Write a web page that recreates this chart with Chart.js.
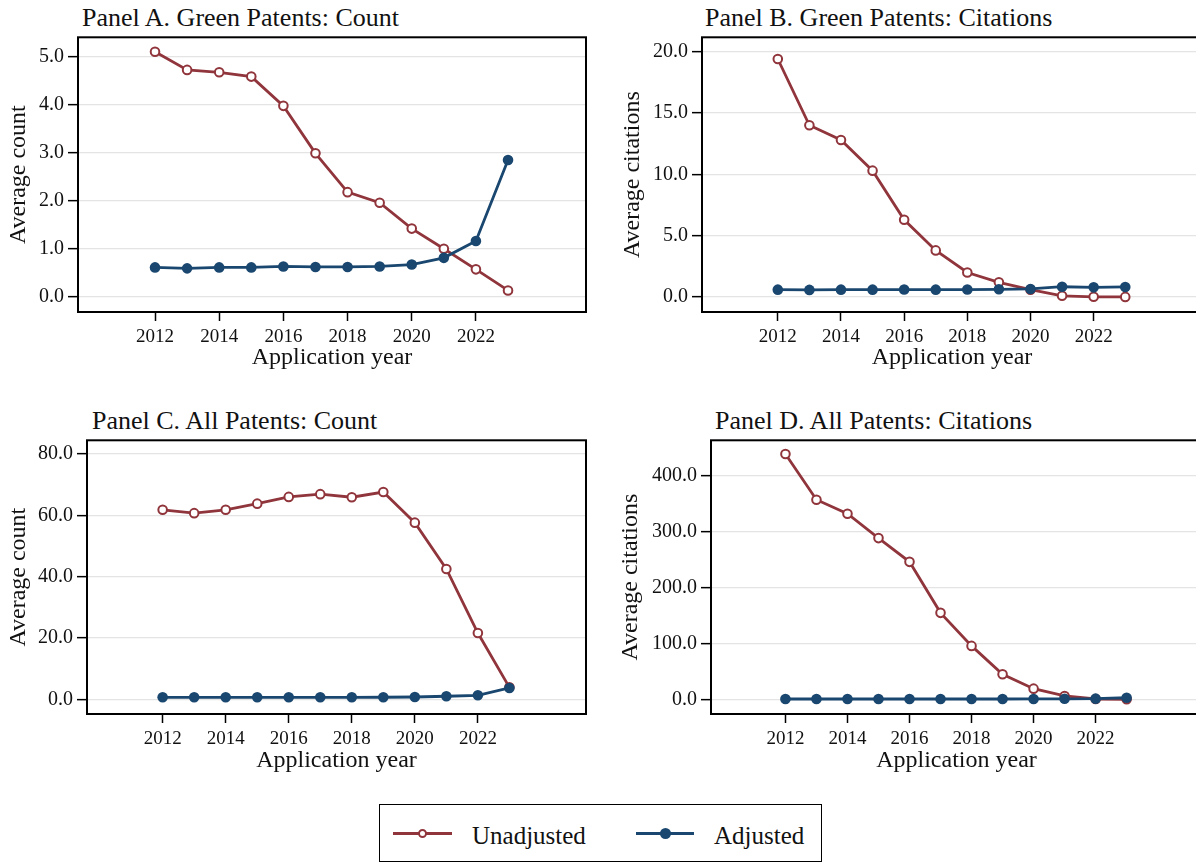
<!DOCTYPE html>
<html>
<head>
<meta charset="utf-8">
<script src="https://cdn.jsdelivr.net/npm/chart.js@4.4.1/dist/chart.umd.min.js"></script>
<style>
  html, body { margin: 0; overflow: hidden; }
  body { width: 1196px; height: 863px; background: #fff;
         position: relative; font-family: "Liberation Serif", "Times New Roman", serif; color: #111; }
  canvas { position: absolute; }
  .ptitle { position: absolute; font-size: 26px; line-height: 26px; white-space: nowrap; }
  #legend { position: absolute; left: 379px; top: 804px; width: 441px; height: 56px;
            border: 1.5px solid #000; }
  .lline { position: absolute; height: 3px; }
  .ldot { position: absolute; border-radius: 50%; box-sizing: border-box; }
  .ltext { position: absolute; font-size: 25px; line-height: 25px; white-space: nowrap; }
</style>
</head>
<body>
<div class="ptitle" style="left:82px;top:5px">Panel A. Green Patents: Count</div>
<div class="ptitle" style="left:705px;top:5px">Panel B. Green Patents: Citations</div>
<div class="ptitle" style="left:92px;top:408px">Panel C. All Patents: Count</div>
<div class="ptitle" style="left:715px;top:408px">Panel D. All Patents: Citations</div>

<canvas id="panelA"></canvas>
<canvas id="panelB"></canvas>
<canvas id="panelC"></canvas>
<canvas id="panelD"></canvas>

<div id="legend">
  <div class="lline" style="left:13px;top:27px;width:59px;background:#90353B"></div>
  <div class="ldot" style="left:38px;top:24px;width:9px;height:9px;background:#fff;border:2px solid #90353B"></div>
  <div class="ltext" style="left:92px;top:18px">Unadjusted</div>
  <div class="lline" style="left:256px;top:27px;width:58px;background:#1A476F"></div>
  <div class="ldot" style="left:280px;top:23px;width:11px;height:11px;background:#1A476F"></div>
  <div class="ltext" style="left:334px;top:18px">Adjusted</div>
</div>

<script>
// data
const years = [2012, 2013, 2014, 2015, 2016, 2017, 2018, 2019, 2020, 2021, 2022, 2023];
const yearTicks = [2012, 2014, 2016, 2018, 2020, 2022];

const greenCountUnadj = [5.11, 4.73, 4.68, 4.59, 3.98, 2.99, 2.18, 1.96, 1.42, 1.00, 0.57, 0.13];
const greenCountAdj   = [0.61, 0.59, 0.61, 0.61, 0.63, 0.62, 0.62, 0.63, 0.67, 0.81, 1.16, 2.85];
const greenCountTicks = [0, 1, 2, 3, 4, 5];

const greenCiteUnadj = [19.4, 14.0, 12.8, 10.3, 6.3, 3.8, 2.0, 1.2, 0.6, 0.1, 0.02, 0.01];
const greenCiteAdj   = [0.60, 0.58, 0.60, 0.60, 0.61, 0.60, 0.61, 0.63, 0.66, 0.84, 0.79, 0.82];
const greenCiteTicks = [0, 5, 10, 15, 20];

const allCountUnadj = [61.8, 60.7, 61.8, 63.8, 66.0, 66.9, 65.9, 67.6, 57.6, 42.5, 21.6, 3.9];
const allCountAdj   = [0.65, 0.65, 0.66, 0.66, 0.66, 0.66, 0.66, 0.67, 0.76, 1.0, 1.3, 3.7];
const allCountTicks = [0, 20, 40, 60, 80];

const allCiteUnadj = [439.5, 357.5, 332.4, 288.8, 246.3, 154.9, 95.7, 44.8, 19.1, 6.0, 0.6, 0.1];
const allCiteAdj   = [0.6, 0.6, 0.6, 0.6, 0.6, 0.6, 0.6, 0.6, 0.7, 0.9, 1.2, 2.8];
const allCiteTicks = [0, 100, 200, 300, 400];

const RED = '#90353B';
const BLUE = '#1A476F';
const FONT = 'Liberation Serif';

// the x axis takes the bottom 68px of each canvas
const panels = [
  { id: 'panelA', yTitle: 'Average count', unadj: greenCountUnadj, adj: greenCountAdj, ticks: greenCountTicks, yMin: -0.32, yMax: 5.41,
    left: 0, top: 31, width: 598, height: 349, yAxisW: 78, padRight: 12, yTitlePad: 4, xTitlePad: 8 },
  { id: 'panelB', yTitle: 'Average citations', unadj: greenCiteUnadj, adj: greenCiteAdj, ticks: greenCiteTicks, yMin: -1.22, yMax: 21.17,
    left: 600, top: 31, width: 612, height: 349, yAxisW: 102, padRight: 10, yTitlePad: 18, xTitlePad: 8 },
  { id: 'panelC', yTitle: 'Average count', unadj: allCountUnadj, adj: allCountAdj, ticks: allCountTicks, yMin: -4.79, yMax: 84.46,
    left: 0, top: 434, width: 598, height: 348, yAxisW: 87, padRight: 12, yTitlePad: 4, xTitlePad: 7 },
  { id: 'panelD', yTitle: 'Average citations', unadj: allCiteUnadj, adj: allCiteAdj, ticks: allCiteTicks, yMin: -26.3, yMax: 464,
    left: 600, top: 434, width: 612, height: 348, yAxisW: 111, padRight: 10, yTitlePad: 16, xTitlePad: 7 }
];

// black box round the plot region
const framePlugin = {
  id: 'frame',
  afterDraw(chart) {
    const { ctx, chartArea: a } = chart;
    ctx.save();
    ctx.strokeStyle = '#000';
    ctx.lineWidth = 2;
    ctx.strokeRect(a.left, a.top, a.right - a.left, a.bottom - a.top);
    ctx.restore();
  }
};

panels.forEach(p => {
  const cv = document.getElementById(p.id);
  cv.width = p.width; cv.height = p.height;
  cv.style.left = p.left + 'px'; cv.style.top = p.top + 'px';
  cv.style.width = p.width + 'px'; cv.style.height = p.height + 'px';

  new Chart(cv, {
    type: 'line',
    data: {
      labels: years,
      datasets: [
        {
          label: 'Unadjusted', data: years.map((y, i) => ({ x: y, y: p.unadj[i] })), order: 1,
          borderColor: RED, borderWidth: 2.8, tension: 0,
          pointRadius: 4.3, pointBorderWidth: 2, pointBackgroundColor: '#fff', pointBorderColor: RED
        },
        {
          label: 'Adjusted', data: years.map((y, i) => ({ x: y, y: p.adj[i] })), order: 0,
          borderColor: BLUE, borderWidth: 2.8, tension: 0,
          pointRadius: 5.3, pointBorderWidth: 0, pointBackgroundColor: BLUE, pointBorderColor: BLUE
        }
      ]
    },
    options: {
      responsive: false,
      devicePixelRatio: 1,
      animation: false,
      layout: { padding: { top: 2, right: p.padRight, left: 0, bottom: 0 } },
      plugins: { legend: { display: false }, tooltip: { enabled: false } },
      scales: {
        x: {
          type: 'linear', min: 2009.6, max: 2025.43,
          afterBuildTicks: s => { s.ticks = yearTicks.map(v => ({ value: v })); },
          afterFit: s => { s.height = 68; s.paddingLeft = 0; s.paddingRight = 0; },
          grid: { drawOnChartArea: false, drawTicks: true, tickLength: 9, tickColor: '#000', tickWidth: 1.5 },
          border: { display: false },
          ticks: { color: '#111', font: { family: FONT, size: 19 }, padding: 5, maxRotation: 0,
                   callback: v => String(v) },
          title: { display: true, text: 'Application year', color: '#111',
                   font: { family: FONT, size: 24 }, padding: { top: 0, bottom: p.xTitlePad } }
        },
        y: {
          type: 'linear', min: p.yMin, max: p.yMax,
          afterBuildTicks: s => { s.ticks = p.ticks.map(v => ({ value: v })); },
          afterFit: s => { s.width = p.yAxisW; s.paddingTop = 0; s.paddingBottom = 0; },
          grid: { color: '#e4e4e4', lineWidth: 1.3, tickLength: 10, tickColor: '#000', tickWidth: 1.5 },
          border: { display: false },
          ticks: { color: '#111', font: { family: FONT, size: 20 }, padding: 4,
                   callback: v => Number(v).toFixed(1) },
          title: { display: true, text: p.yTitle, color: '#111',
                   font: { family: FONT, size: 24 }, padding: { top: p.yTitlePad, bottom: 0 } }
        }
      }
    },
    plugins: [framePlugin]
  });
});
</script>
</body>
</html>
